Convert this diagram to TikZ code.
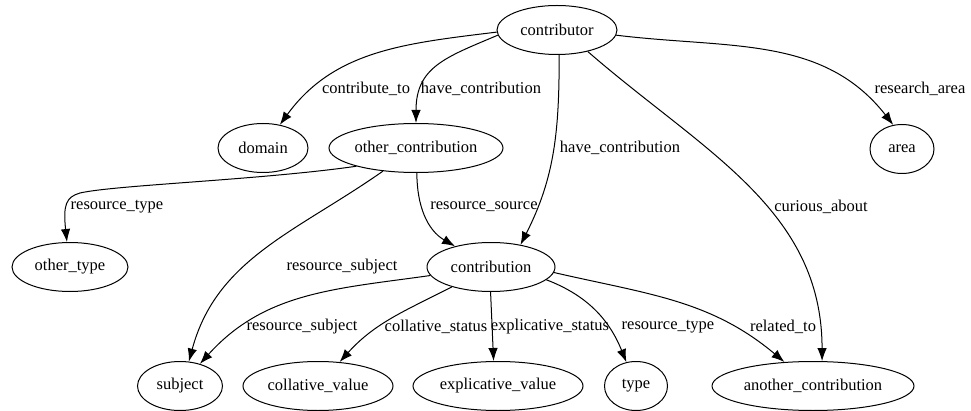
\documentclass[tikz,border=0pt]{standalone}
\usepackage{fontspec}
\setmainfont{Liberation Serif}
\usetikzlibrary{shapes.geometric,arrows.meta}
\begin{document}
\begin{tikzpicture}[x=1pt,y=1pt,>={Latex[length=13pt,width=9.5pt]},
		every node/.style={font=\fontsize{16.5}{18}\selectfont},
		ent/.style={draw,ellipse,line width=1pt,inner sep=0pt,minimum height=49pt},
		lbl/.style={inner sep=0pt},
		link/.style={->,line width=1pt}]
		\useasboundingbox (0,0) rectangle (971,410);
		% entities
		\node[ent,minimum width=120pt] (contributor) at (557,380) {contributor};
		\node[ent,minimum width=90pt] (domain) at (263,262) {domain};
		\node[ent,minimum width=174pt] (othercontrib) at (416,262) {other\_contribution};
		\node[ent,minimum width=64pt] (area) at (902,261) {area};
		\node[ent,minimum width=116pt] (othertype) at (70,143) {other\_type};
		\node[ent,minimum width=128pt] (contribution) at (491,143) {contribution};
		\node[ent,minimum width=85pt] (subject) at (180,24) {subject};
		\node[ent,minimum width=150pt] (collvalue) at (318,24) {collative\_value};
		\node[ent,minimum width=170pt] (explvalue) at (498,24) {explicative\_value};
		\node[ent,minimum width=63pt] (type) at (636,24) {type};
		\node[ent,minimum width=202pt] (another) at (813,24) {another\_contribution};
		% relations
		\draw[link] (contributor.182) to[out=187,in=54] (domain);
		\draw[link] (contributor.185) to[out=203,in=90,looseness=1.2] (othercontrib);
		\draw[link] (contributor.-85) to[out=-90,in=63] (contribution.37);
		\draw[link] (contributor.-35) to[out=-41,in=90] (another.70);
		\draw[link] (contributor.-5) to[out=-7,in=128] (area.110);
		\draw[link] (othercontrib.197) .. controls (260,230) and (115,225) .. (80,217)
			.. controls (66,213) and (63,205) .. (othertype.97);
		\draw[link] (othercontrib) to[out=215,in=75] (subject.70);
		\draw[link] (othercontrib.-88) to[out=-90,in=150] (contribution.150);
		\draw[link] (contribution) to[out=188,in=48] (subject);
		\draw[link] (contribution) to[out=207,in=48] (collvalue);
		\draw[link] (contribution.-91) -- (explvalue.100);
		\draw[link] (contribution.-13) to[out=-21,in=112] (type);
		\draw[link] (contribution.-5) to[out=-13,in=140] (another);
		% labels
		\node[lbl] (lcontribute) at (366,321) {contribute\_to};
		\node[lbl] (lhave) at (481,321) {have\_contribution};
		\node[lbl] (lhavetwo) at (620,262) {have\_contribution};
		\node[lbl] (lresearch) at (920,321) {research\_area};
		\node[lbl] (lcurious) at (821,203) {curious\_about};
		\node[lbl] (ltype) at (117,203) {resource\_type};
		\node[lbl] (lsource) at (484,203) {resource\_source};
		\node[lbl] (lsubject) at (342,143) {resource\_subject};
		\node[lbl] (lsubjecttwo) at (302,83) {resource\_subject};
		\node[lbl] (lcollative) at (436,83) {collative\_status};
		\node[lbl] (lexplicative) at (550,83) {explicative\_status};
		\node[lbl] (ltypetwo) at (668,83) {resource\_type};
		\node[lbl] (lrelated) at (783,83) {related\_to};
	\end{tikzpicture}
\end{document}
